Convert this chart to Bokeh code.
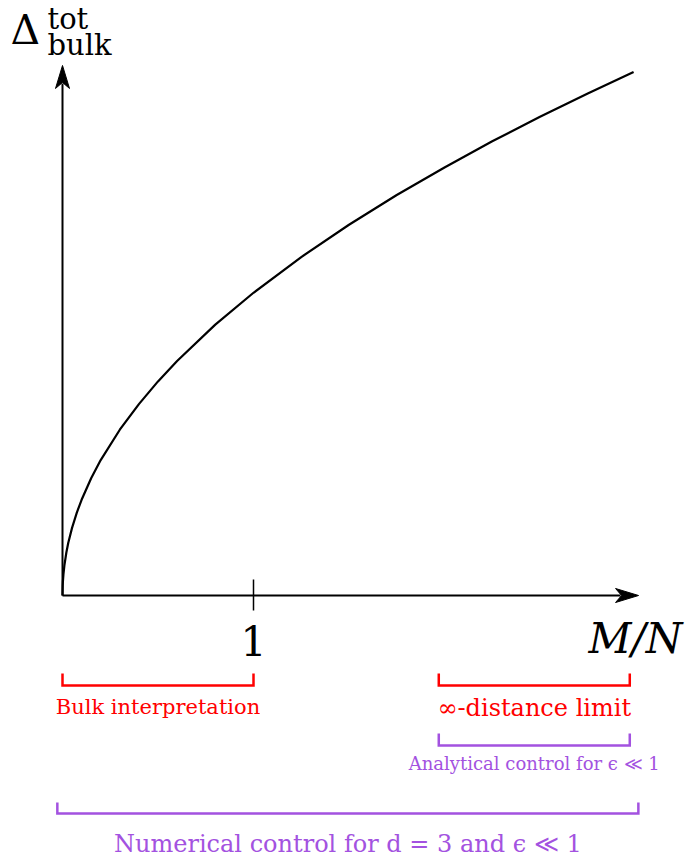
from bokeh.plotting import figure
from bokeh.models import Range1d
from bokeh.core.properties import value
from bokeh.embed import file_html
from bokeh.resources import INLINE

# ---------------- data ----------------
curve_x = [0.0, 0.001, 0.002, 0.005, 0.01, 0.02, 0.03, 0.05, 0.075, 0.1, 0.15, 0.2, 0.3,
           0.4, 0.5, 0.6, 0.8, 1.0, 1.25, 1.5, 1.75, 2.0, 2.25, 2.5, 2.75, 2.99]
curve_y = [0.0, 0.050, 0.071, 0.112, 0.158, 0.224, 0.275, 0.354, 0.434, 0.501, 0.614, 0.709, 0.868,
           1.002, 1.121, 1.228, 1.418, 1.585, 1.772, 1.941, 2.097, 2.241, 2.378, 2.506, 2.628, 2.741]

x_axis_end = 3.016
y_axis_end = 2.775
tick_x = [1]
tick_labels = ["1"]
x_label = "M/N"
y_label_main = "\u0394"
y_label_sup = "tot"
y_label_sub = "bulk"

bracket_start = [0.0, 1.97, 1.97, -0.027]
bracket_end = [1.0, 2.97, 2.97, 3.015]
bracket_labels = ["Bulk interpretation", "\u221e-distance limit",
                  "Analytical control for \u03f5 \u226a 1",
                  "Numerical control for d = 3 and \u03f5 \u226a 1"]

# ---------------- layout / style ----------------
W, H = 688, 859
X0_PX, Y0_PX, SCALE = 62, 595, 191.0


def dx(px):
    return (px - X0_PX) / SCALE


def dy(py):
    return (Y0_PX - py) / SCALE


RED = "#ff0000"
PURPLE = "#a352e0"
FONT = value("DejaVu Serif")

bracket_colors = [RED, RED, PURPLE, PURPLE]
bracket_top_px = [673, 673, 733, 802]
bracket_bot_px = [685, 685, 745, 813]
label_mid_px = [706, 707, 763, 843]
label_size = ["21px", "24px", "18px", "24px"]

p = figure(width=W, height=H, output_backend="svg", toolbar_location=None,
           min_border=0)
p.x_range = Range1d(dx(0), dx(W))
p.y_range = Range1d(dy(H), dy(0))
p.axis.visible = False
p.grid.visible = False
p.outline_line_color = None
p.background_fill_color = "white"
p.border_fill_color = "white"

# axes lines
AX_W = 2
p.line([0, 0], [0, y_axis_end - 18 / SCALE], line_color="black", line_width=AX_W)
p.line([0, x_axis_end - 18 / SCALE], [0, 0], line_color="black", line_width=AX_W)

# arrowheads (stealth-like), computed from axis ends
L, HW, NOTCH = 23 / SCALE, 7 / SCALE, 17 / SCALE
p.patch([x_axis_end, x_axis_end - L, x_axis_end - NOTCH, x_axis_end - L],
        [0, HW, 0, -HW], fill_color="black", line_color="black", line_width=1)
p.patch([0, HW, 0, -HW],
        [y_axis_end, y_axis_end - L, y_axis_end - NOTCH, y_axis_end - L],
        fill_color="black", line_color="black", line_width=1)

# tick
for t in tick_x:
    p.line([t, t], [16 / SCALE, -15 / SCALE], line_color="black", line_width=1.5)
p.text(x=tick_x, y=[dy(640)] * len(tick_x), text=tick_labels, text_font=FONT,
       text_font_size="41px", text_align="center", text_baseline="middle",
       text_color="black")

# curve
p.line(curve_x, curve_y, line_color="black", line_width=2.2)

# axis labels
p.text(x=[x_axis_end - 3 / SCALE], y=[dy(638)], text=[x_label], text_font=FONT,
       text_font_style="italic", text_font_size="42px", text_align="center",
       text_baseline="middle", text_color="black")
p.text(x=[dx(10)], y=[dy(29)], text=[y_label_main], text_font=FONT,
       text_font_size="41px", text_align="left", text_baseline="middle",
       text_color="black")
p.text(x=[dx(47)], y=[dy(18)], text=[y_label_sup], text_font=FONT,
       text_font_size="29px", text_align="left", text_baseline="middle",
       text_color="black")
p.text(x=[dx(47)], y=[dy(44)], text=[y_label_sub], text_font=FONT,
       text_font_size="29px", text_align="left", text_baseline="middle",
       text_color="black")

# brackets
for s, e, c, tp, bp, lab, lm, fs in zip(bracket_start, bracket_end, bracket_colors,
                                         bracket_top_px, bracket_bot_px, bracket_labels,
                                         label_mid_px, label_size):
    p.line([s, s, e, e], [dy(tp), dy(bp), dy(bp), dy(tp)], line_color=c,
           line_width=2.5, line_join="miter")
    p.text(x=[(s + e) / 2], y=[dy(lm)], text=[lab], text_font=FONT,
           text_font_size=fs, text_align="center", text_baseline="middle",
           text_color=c)

open("out.html", "w").write(file_html(p, INLINE))
